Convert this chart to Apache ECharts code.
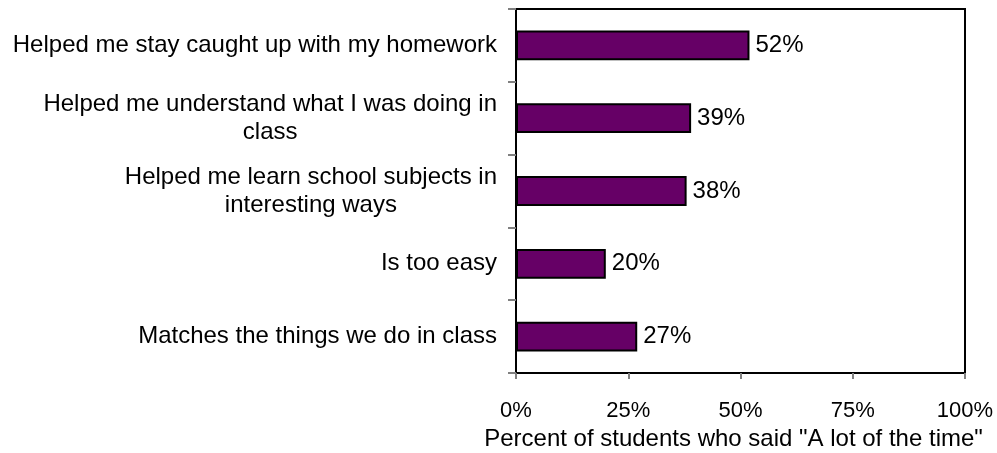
<!DOCTYPE html>
<html>
<head>
<meta charset="utf-8">
<script src="https://cdn.jsdelivr.net/npm/echarts@6/dist/echarts.min.js"></script>
<style>
  html, body { margin: 0; padding: 0; background: #fff; overflow: hidden; }
  #chart { position: absolute; left: 0; top: 0; width: 997px; height: 453px; }
</style>
</head>
<body>
<div id="chart"></div>
<script>
// Survey items (top to bottom) and share answering "A lot of the time"
const categories = [
  'Helped me stay caught up with my homework',
  'Helped me understand what I was doing in\nclass',
  'Helped me learn school subjects in\ninteresting ways',
  'Is too easy',
  'Matches the things we do in class'
];
const percentValues = [52, 39, 38, 20, 27];
const xTicks = [0, 25, 50, 75, 100];
const xAxisTitle = 'Percent of students who said "A lot of the time"';

const FONT = 'Liberation Sans, Arial, Helvetica, sans-serif';

const chart = echarts.init(document.getElementById('chart'), null, { renderer: 'canvas' });

chart.setOption({
  animation: false,
  backgroundColor: '#fff',
  grid: {
    left: 516, top: 9, width: 449, height: 364,
    show: true, borderColor: '#000', borderWidth: 2,
    containLabel: false,
    outerBoundsMode: 'none'
  },
  xAxis: {
    type: 'value',
    min: xTicks[0],
    max: xTicks[xTicks.length - 1],
    interval: xTicks[1] - xTicks[0],
    axisLine: { show: true, lineStyle: { color: '#000', width: 2 } },
    axisTick: { show: true, length: 6, lineStyle: { color: '#808080', width: 2 } },
    splitLine: { show: false },
    axisLabel: {
      formatter: '{value}%', color: '#000', fontFamily: FONT, fontSize: 22, margin: 27
    },
    name: xAxisTitle,
    nameLocation: 'middle',
    nameGap: 54,
    nameTextStyle: { color: '#000', fontFamily: FONT, fontSize: 24, padding: [0, 14, 0, 0] }
  },
  yAxis: {
    type: 'category',
    inverse: true,
    data: categories,
    axisLine: { show: true, lineStyle: { color: '#000', width: 2 } },
    axisTick: { show: true, length: 8, alignWithLabel: false, lineStyle: { color: '#808080', width: 2 } },
    splitLine: { show: false },
    axisLabel: {
      margin: 19,
      align: 'right',
      formatter: function (v) {
        return v.split('\n').map(function (s) { return '{c|' + s + '}'; }).join('\n');
      },
      rich: {
        c: { align: 'center', color: '#000', fontFamily: FONT, fontSize: 24, lineHeight: 28 }
      }
    }
  },
  series: [{
    type: 'bar',
    data: percentValues,
    barWidth: '41%',
    itemStyle: { color: '#660066', borderColor: '#000', borderWidth: 2 },
    label: {
      show: true, position: 'right', distance: 6,
      formatter: '{c}%', color: '#000', fontFamily: FONT, fontSize: 24
    }
  }]
});
</script>
</body>
</html>
